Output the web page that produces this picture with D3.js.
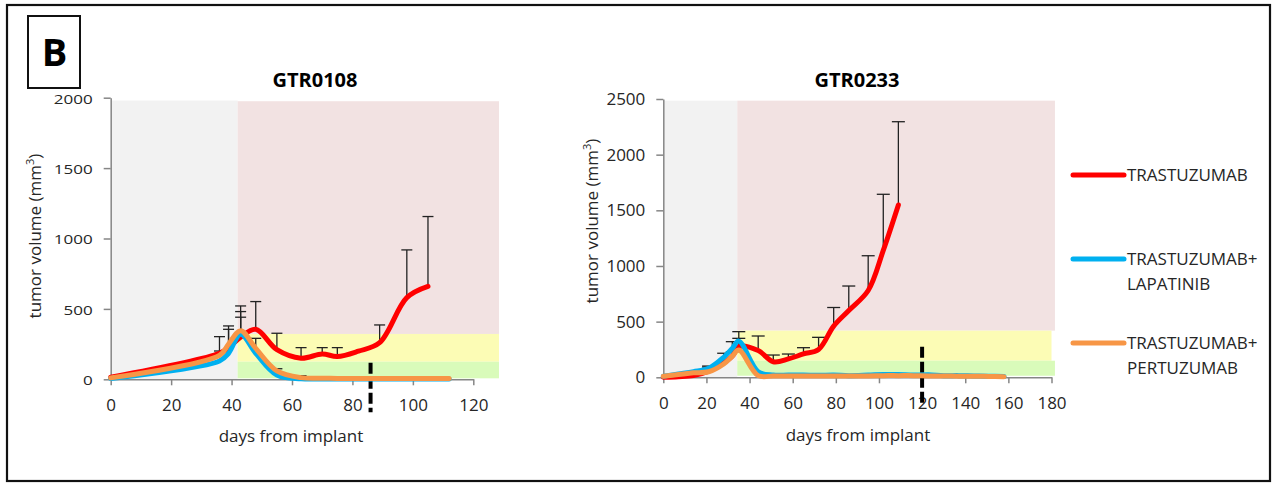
<!DOCTYPE html>
<html>
<head>
<meta charset="utf-8">
<script src="https://cdn.jsdelivr.net/npm/d3@7"></script>
<style>
  body { margin: 0; background: #fff; }
  text { font-family: 'Open Sans', sans-serif; fill: #262626; }
</style>
</head>
<body>
<script>
// ---- GTR0108 ----
var daysA   = [0, 36, 39, 43, 48, 55, 63, 70, 75, 82, 89, 98, 105, 112];
var trastA  = [15, 185, 225, 300, 355, 210, 150, 180, 162, 200, 260, 580, 660, null];
var trastSdA = [null, 118, 154, 221, 197, 117, 75, 45, 63, null, 126, 339, 496, null];
var lapaA   = [5, 130, 185, 320, 185, 30, 4, 3, 3, 3, 3, 3, 3, 3];
var lapaSdA = [null, null, null, 121, null, null, null, null, null, null, null, null, null, null];
var pertA   = [10, 170, 250, 345, 220, 60, 12, 8, 6, 5, 5, 5, 5, 5];
var pertSdA = [null, 31, 105, 136, 71, 15, 13, null, null, null, null, null, null, null];
// shaded zones [fromDay, toDay, lowVolume, highVolume]
var zonesA = { pre: [0, 42, 0, 1980], red: [42, 128.5, 322, 1975], yellow: [42, 128.5, 125, 322], green: [42, 128.5, 7, 125] };
var stopA = [86, 118];   // day, top of dashed marker
var xTicksA = [0, 20, 40, 60, 80, 100, 120];
var yTicksA = [0, 500, 1000, 1500, 2000];

// ---- GTR0233 ----
var daysB   = [0, 7, 14, 21, 28, 32, 35, 44, 51, 58, 65, 72, 79, 86, 95, 102, 109, 116, 123, 130, 137, 144, 151, 158];
var trastB  = [0, 5, 15, 55, 130, 190, 275, 240, 140, 165, 210, 250, 460, 600, 780, 1140, 1548, null, null, null, null, null, null, null];
var trastSdB = [null, null, null, 46, 86, null, 135, 131, 60, 44, 56, 109, 167, 220, 312, 504, 748, null, null, null, null, null, null, null];
var lapaB   = [10, 30, 50, 80, 180, 260, 325, 50, 20, 20, 20, 18, 20, 15, 20, 25, 25, 20, 22, 15, 15, 12, 10, 8];
var lapaSdB = [null, null, null, 12, null, 60, 25, null, null, null, null, null, null, null, null, null, null, null, null, null, null, null, null, null];
var pertB   = [10, 25, 40, 50, 120, 190, 245, 15, 12, 12, 12, 12, 12, 12, 12, 15, 15, 15, 12, 12, 10, 10, 8, 5];
var pertSdB = [null, null, null, null, null, 40, null, null, null, null, null, null, null, null, null, null, null, null, null, null, null, null, null, null];
var zonesB = { pre: [0, 34.3, 0, 2485], red: [34.3, 181.6, 419, 2485], yellow: [34.3, 180, 149, 419], green: [34.3, 181.6, 14, 149] };
var stopB = [120, 275];
var xTicksB = [0, 20, 40, 60, 80, 100, 120, 140, 160, 180];
var yTicksB = [0, 500, 1000, 1500, 2000, 2500];

var seriesNames = ["TRASTUZUMAB", "TRASTUZUMAB+|LAPATINIB", "TRASTUZUMAB+|PERTUZUMAB"];
var seriesColors = ["#ff0000", "#00b0f0", "#f79646"];
var zoneColors = { pre: "#f2f2f2", red: "#f2e2e2", yellow: "#fcfcb5", green: "#d9fbba" };

var svg = d3.select("body").append("svg")
    .attr("width", 1275)
    .attr("height", 487);

// outer frame and panel letter
svg.append("rect").attr("x", 7).attr("y", 5).attr("width", 1263).attr("height", 476)
    .attr("fill", "none").attr("stroke", "#111").attr("stroke-width", 2.2);
svg.append("rect").attr("x", 28).attr("y", 16).attr("width", 52).attr("height", 72)
    .attr("fill", "none").attr("stroke", "#111").attr("stroke-width", 2);
svg.append("text").attr("x", 54.5).attr("y", 66).attr("text-anchor", "middle")
    .style("font-size", "38px").style("font-weight", "bold").style("fill", "#000").text("B");

function drawChart(c) {
    var g = svg.append("g");
    var x = d3.scaleLinear().domain([0, c.xMax]).range(c.xRange);
    var y = d3.scaleLinear().domain([0, c.yMax]).range(c.yRange);

    // background zones
    Object.keys(c.zones).forEach(function (k) {
        var z = c.zones[k];
        g.append("rect")
            .attr("x", x(z[0])).attr("width", x(z[1]) - x(z[0]))
            .attr("y", y(z[3])).attr("height", y(z[2]) - y(z[3]))
            .attr("fill", zoneColors[k]);
    });

    // axes
    var xa = g.append("g")
        .attr("transform", "translate(0," + y(0) + ")")
        .call(d3.axisBottom(x).tickValues(c.xTicks).tickFormat(d3.format("d"))
            .tickSize(6).tickSizeOuter(0).tickPadding(c.xPad));
    var ya = g.append("g")
        .attr("transform", "translate(" + x(0) + ",0)")
        .call(d3.axisLeft(y).tickValues(c.yTicks).tickFormat(d3.format("d"))
            .tickSize(7).tickSizeOuter(0).tickPadding(11));
    [xa, ya].forEach(function (a) {
        a.selectAll("path, line").attr("stroke", "#868686").attr("stroke-width", 1.5);
        a.selectAll("text").style("font-size", c.font + "px").style("font-family", "'Open Sans', sans-serif").attr("fill", "#262626");
    });
    // the left panel's y labels are flattened in the source figure
    ya.selectAll(".tick").each(function () {
        var t = d3.select(this), tr = t.attr("transform");
        t.select("text").attr("transform", "scale(1," + c.yTickSquash + ")")
            .attr("dy", (0.32 / c.yTickSquash) + "em");
    });

    // dashed stop marker
    g.append("line")
        .attr("x1", x(c.stop[0])).attr("x2", x(c.stop[0]))
        .attr("y1", y(c.stop[1])).attr("y2", y(0) + c.stopExtra)
        .attr("stroke", "#000").attr("stroke-width", 4).attr("stroke-dasharray", "11,4");

    var series = [c.trast, c.lapa, c.pert];
    var sds = [c.trastSd, c.lapaSd, c.pertSd];

    // error bars (plus only)
    series.forEach(function (s, i) {
        c.days.forEach(function (d, j) {
            var sd = sds[i][j];
            if (sd == null || s[j] == null) return;
            var px = x(d), top = y(s[j] + sd);
            g.append("line").attr("x1", px).attr("x2", px).attr("y1", y(s[j])).attr("y2", top)
                .attr("stroke", "#222").attr("stroke-width", 1.3);
            g.append("line").attr("x1", px - c.cap / 2).attr("x2", px + c.cap / 2).attr("y1", top).attr("y2", top)
                .attr("stroke", "#222").attr("stroke-width", 1.3);
        });
    });

    // smoothed series lines
    series.forEach(function (s, i) {
        var pts = c.days.map(function (d, j) { return [d, s[j]]; });
        g.append("path")
            .datum(pts)
            .attr("fill", "none")
            .attr("stroke", seriesColors[i])
            .attr("stroke-width", 5)
            .attr("stroke-linecap", "round")
            .attr("stroke-linejoin", "round")
            .attr("d", d3.line()
                .defined(function (p) { return p[1] != null; })
                .curve(d3.curveCatmullRom.alpha(0.5))
                .x(function (p) { return x(p[0]); })
                .y(function (p) { return y(p[1]); }));
    });

    // titles
    g.append("text").attr("x", c.titleX).attr("y", 87).attr("text-anchor", "middle")
        .style("font-size", "20px").style("font-weight", "bold").style("fill", "#000").text(c.title);
    g.append("text").attr("x", c.xLabelX).attr("y", c.xLabelY).attr("text-anchor", "middle")
        .style("font-size", c.font + "px").text("days from implant");
    var yl = g.append("text")
        .attr("transform", "translate(" + c.yLabelX + "," + c.yLabelY + ") rotate(-90)")
        .attr("text-anchor", "middle")
        .style("font-size", "17px");
    yl.append("tspan").text("tumor volume (mm");
    yl.append("tspan").attr("dy", -7).style("font-size", "11px").text("3");
    yl.append("tspan").attr("dy", 7).text(")");
}

drawChart({
    title: "GTR0108", titleX: 315, font: 17, xPad: 14, yTickSquash: 0.75,
    xMax: 120, yMax: 2000, xRange: [110.7, 473.3], yRange: [379.3, 97.7],
    xTicks: xTicksA, yTicks: yTicksA, zones: zonesA, stop: stopA, stopExtra: 33,
    days: daysA, trast: trastA, trastSd: trastSdA, lapa: lapaA, lapaSd: lapaSdA, pert: pertA, pertSd: pertSdA,
    cap: 11, xLabelX: 291, xLabelY: 442, yLabelX: 41, yLabelY: 236
});
drawChart({
    title: "GTR0233", titleX: 857, font: 17, xPad: 14, yTickSquash: 1,
    xMax: 180, yMax: 2500, xRange: [663.3, 1051.5], yRange: [377.3, 99],
    xTicks: xTicksB, yTicks: yTicksB, zones: zonesB, stop: stopB, stopExtra: 26,
    days: daysB, trast: trastB, trastSd: trastSdB, lapa: lapaB, lapaSd: lapaSdB, pert: pertB, pertSd: pertSdB,
    cap: 13, xLabelX: 858, xLabelY: 441, yLabelX: 598, yLabelY: 221
});

// legend
var legY = [175, 259, 343];
var legend = svg.append("g");
seriesNames.forEach(function (name, i) {
    legend.append("line")
        .attr("x1", 1073).attr("x2", 1124).attr("y1", legY[i]).attr("y2", legY[i])
        .attr("stroke", seriesColors[i]).attr("stroke-width", 5).attr("stroke-linecap", "round");
    name.split("|").forEach(function (part, k) {
        legend.append("text")
            .attr("x", 1127).attr("y", legY[i] + 6 + k * 25)
            .style("font-size", "17px")
            .text(part);
    });
});
</script>
</body>
</html>
